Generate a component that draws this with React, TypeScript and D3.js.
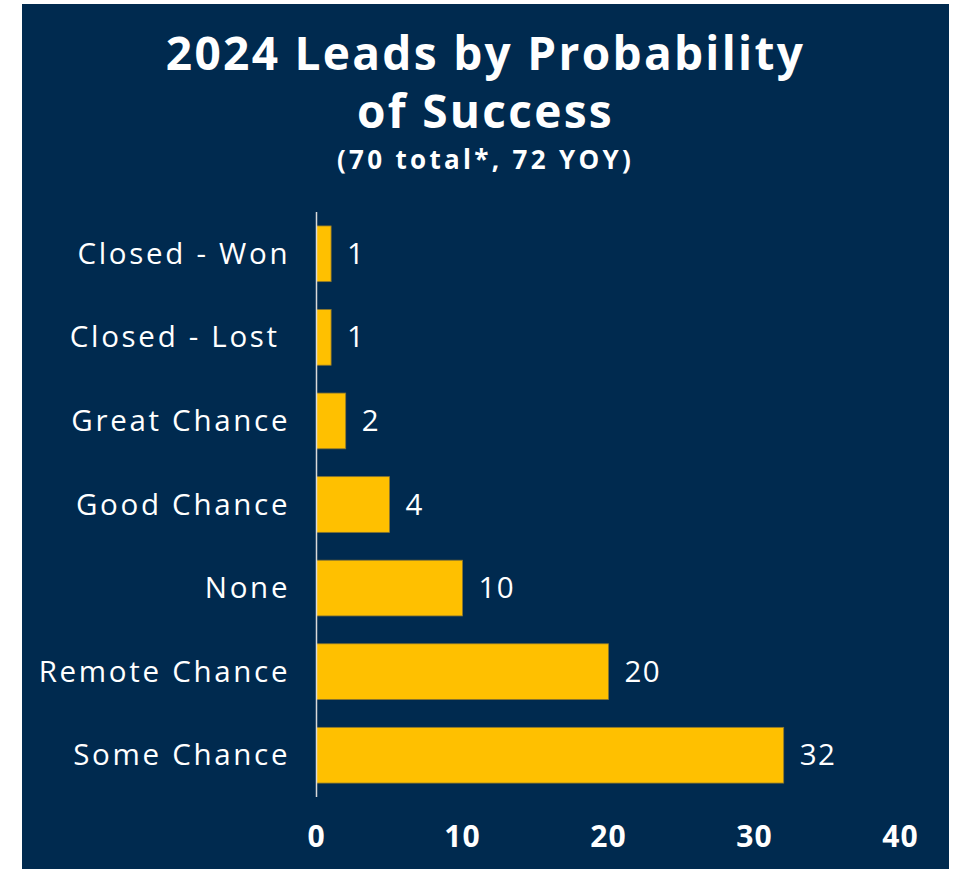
import React from 'react';
import * as d3 from 'd3';

const categories = ['Closed - Won', 'Closed - Lost ', 'Great Chance', 'Good Chance', 'None', 'Remote Chance', 'Some Chance'];
// bar lengths as drawn in the reference (the "Good Chance" bar reaches 5 while its label reads 4)
const values = [1, 1, 2, 5, 10, 20, 32];
const valueLabels = ['1', '1', '2', '4', '10', '20', '32'];
const tickValues = [0, 10, 20, 30, 40];
const titleLines = ['2024 Leads by Probability', 'of Success'];
const subtitle = '(70 total*, 72 YOY)';

const W = 958;
const H = 869;
const BG = '#002A4F';
const BAR = '#FFC000';

const App: React.FC = () => {
    const x = d3.scaleLinear().domain([0, 40]).range([316.5, 900.5]);
    const y = d3.scaleBand<string>()
        .domain(categories)
        .range([212, 797])
        .paddingInner(1 / 3)
        .paddingOuter(1 / 6);

    const cx = 485.5;
    const catSpacing = 2.7;

    return (
        <svg width={W} height={H} style={{ position: 'absolute', left: 0, top: 0, display: 'block' }}>
            <rect x={22} y={4} width={927} height={H - 4} fill={BG} />

            {/* title */}
            <g fill="#fff" fontFamily="'Open Sans', sans-serif" fontWeight={700} textAnchor="middle">
                {titleLines.map((t, i) => (
                    <text key={t} x={cx} y={70 + i * 58} fontSize={46} letterSpacing={2.3}>{t}</text>
                ))}
                <text x={cx} y={169} fontSize={26} letterSpacing={3.3}>{subtitle}</text>
            </g>

            {/* bars */}
            {categories.map((c, i) => (
                <rect
                    key={c}
                    x={x(0)}
                    y={y(c)!}
                    width={x(values[i]) - x(0)}
                    height={y.bandwidth()}
                    fill={BAR}
                    stroke="#8a7630"
                    strokeWidth={0.8}
                />
            ))}

            {/* axis line */}
            <line x1={x(0)} x2={x(0)} y1={212} y2={797} stroke="#D9D9D9" strokeWidth={1.5} />

            {/* category labels */}
            <g fill="#fff" fontFamily="'Open Sans', sans-serif" fontSize={29.5} textAnchor="end">
                {categories.map(c => (
                    <text key={c} x={x(0) - 29 + catSpacing} y={y(c)! + y.bandwidth() / 2 + 10} letterSpacing={catSpacing} style={{ whiteSpace: 'pre' }}>{c}</text>
                ))}
            </g>

            {/* value labels */}
            <g fill="#fff" fontFamily="'Open Sans', sans-serif" fontSize={29.5}>
                {categories.map((c, i) => (
                    <text key={c} x={x(values[i]) + 16} y={y(c)! + y.bandwidth() / 2 + 10} letterSpacing={1.5}>{valueLabels[i]}</text>
                ))}
            </g>

            {/* x ticks */}
            <g fill="#fff" fontFamily="'Open Sans', sans-serif" fontWeight={700} fontSize={30} textAnchor="middle">
                {tickValues.map(t => (
                    <text key={t} x={x(t)} y={847} letterSpacing={1}>{t}</text>
                ))}
            </g>
        </svg>
    );
};

export default App;
